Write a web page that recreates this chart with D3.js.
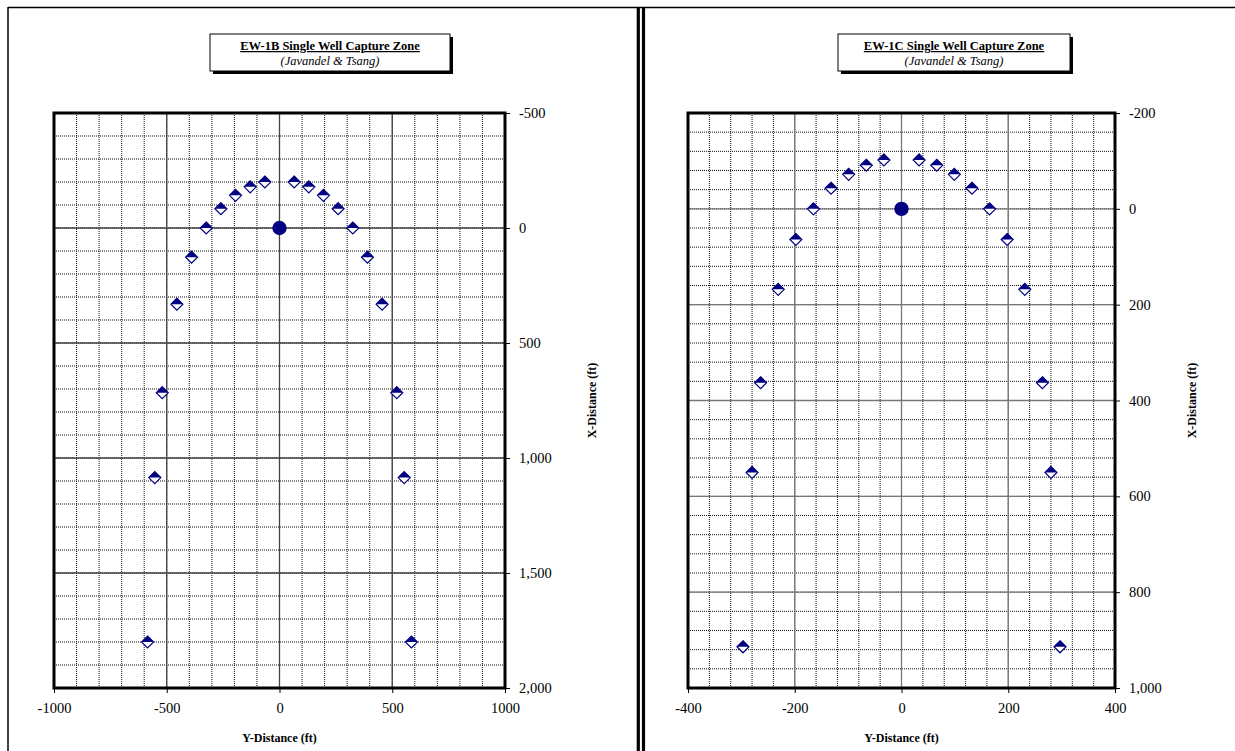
<!DOCTYPE html>
<html>
<head>
<meta charset="utf-8">
<script src="https://cdn.jsdelivr.net/npm/d3@7"></script>
<style>
body { margin: 0; background: #fff; }
svg { display: block; font-family: "Liberation Serif", "Times New Roman", serif; }
</style>
</head>
<body>
<div id="graph"></div>
<script>
// EW-1B capture zone points (Y-distance across, X-distance down)
let ew1bY = [-585, -553, -520, -455, -390, -325, -260, -195, -130, -65,
             65, 130, 195, 260, 325, 390, 455, 520, 553, 585];
let ew1bX = [1800, 1085, 716, 331, 127, 0, -84, -142, -179, -200,
             -200, -179, -142, -84, 0, 127, 331, 716, 1085, 1800];
let ew1bXTicks = [-1000, -500, 0, 500, 1000];
let ew1bYTicks = [-500, 0, 500, 1000, 1500, 2000];

// EW-1C capture zone points
let ew1cY = [-297, -280, -264, -231, -198, -165, -132, -99, -66, -33,
             33, 66, 99, 132, 165, 198, 231, 264, 280, 297];
let ew1cX = [914, 550, 363, 168, 64, 0, -43, -72, -91, -102,
             -102, -91, -72, -43, 0, 64, 168, 363, 550, 914];
let ew1cXTicks = [-400, -200, 0, 200, 400];
let ew1cYTicks = [-200, 0, 200, 400, 600, 800, 1000];

// extraction well location
let wellY = [0];
let wellX = [0];

let width = 1235, height = 751;
let navy = "#000080";

// plain hyphen minus like the spreadsheet output
let fmtPlain = d => d3.format("d")(d).replace("\u2212", "-");
let fmtComma = d => d3.format(",")(d).replace("\u2212", "-");

let svg = d3.select("div#graph").append("svg")
	.attr("width", width)
	.attr("height", height);

// page frame
svg.append("line").attr("x1", 8).attr("x2", 1235).attr("y1", 7.5).attr("y2", 7.5)
	.attr("stroke", "#000").attr("stroke-width", 1.5);
svg.append("line").attr("x1", 8).attr("x2", 8).attr("y1", 7).attr("y2", 751)
	.attr("stroke", "#000").attr("stroke-width", 1.5);
svg.append("line").attr("x1", 638.3).attr("x2", 638.3).attr("y1", 7).attr("y2", 751)
	.attr("stroke", "#000").attr("stroke-width", 3.2);
svg.append("line").attr("x1", 643.5).attr("x2", 643.5).attr("y1", 7).attr("y2", 751)
	.attr("stroke", "#000").attr("stroke-width", 3.2);

function drawPanel(cfg) {
	let g = svg.append("g");

	let xScale = d3.scaleLinear()
		.domain(d3.extent(cfg.xTicks))
		.range([cfg.left, cfg.right]);
	let yScale = d3.scaleLinear()
		.domain(d3.extent(cfg.yTicks))
		.range([cfg.top, cfg.bottom]);

	// grid - minor dotted, major solid
	let xMinor = d3.range(cfg.xTicks[0], cfg.xTicks[cfg.xTicks.length-1] + 1e-6, cfg.xMinor);
	let yMinor = d3.range(cfg.yTicks[0], cfg.yTicks[cfg.yTicks.length-1] + 1e-6, cfg.yMinor);

	g.selectAll("line.vminor").data(xMinor).enter().append("line")
		.attr("class", "vminor")
		.attr("x1", d => xScale(d)).attr("x2", d => xScale(d))
		.attr("y1", cfg.top).attr("y2", cfg.bottom)
		.attr("stroke", "#111").attr("stroke-width", 1)
		.attr("stroke-dasharray", "1,1");
	g.selectAll("line.hminor").data(yMinor).enter().append("line")
		.attr("class", "hminor")
		.attr("x1", cfg.left).attr("x2", cfg.right)
		.attr("y1", d => yScale(d)).attr("y2", d => yScale(d))
		.attr("stroke", "#111").attr("stroke-width", 1)
		.attr("stroke-dasharray", "1,1");
	g.selectAll("line.vmajor").data(cfg.xTicks).enter().append("line")
		.attr("class", "vmajor")
		.attr("x1", d => xScale(d)).attr("x2", d => xScale(d))
		.attr("y1", cfg.top).attr("y2", cfg.bottom)
		.attr("stroke", cfg.majorColor).attr("stroke-width", 1.3);
	g.selectAll("line.hmajor").data(cfg.yTicks).enter().append("line")
		.attr("class", "hmajor")
		.attr("x1", cfg.left).attr("x2", cfg.right)
		.attr("y1", d => yScale(d)).attr("y2", d => yScale(d))
		.attr("stroke", cfg.majorColor).attr("stroke-width", 1.3);

	// axes
	let xAxis = d3.axisBottom(xScale)
		.tickValues(cfg.xTicks)
		.tickSize(5)
		.tickFormat(fmtPlain);
	let yAxis = d3.axisRight(yScale)
		.tickValues(cfg.yTicks)
		.tickSize(5)
		.tickFormat(fmtComma);

	let gx = g.append("g")
		.attr("class", "x axis")
		.attr("transform", `translate(0, ${cfg.bottom})`)
		.call(xAxis);
	let gy = g.append("g")
		.attr("class", "y axis")
		.attr("transform", `translate(${cfg.right}, 0)`)
		.call(yAxis);
	[gx, gy].forEach(a => {
		a.select(".domain").remove();
		a.selectAll(".tick line").attr("stroke", "#000").attr("stroke-width", 1);
		a.selectAll("text")
			.attr("fill", "#000")
			.style("font-family", "Liberation Serif")
			.style("font-size", "14.5px");
	});
	gx.selectAll("text").attr("dy", "0.71em").attr("y", 15);
	gy.selectAll("text").attr("x", 14);

	// plot border
	g.append("rect")
		.attr("x", cfg.left).attr("y", cfg.top)
		.attr("width", cfg.right - cfg.left)
		.attr("height", cfg.bottom - cfg.top)
		.attr("fill", "none")
		.attr("stroke", "#000")
		.attr("stroke-width", 3);

	// axis titles
	g.append("text")
		.attr("x", (cfg.left + cfg.right) / 2)
		.attr("y", 742)
		.attr("text-anchor", "middle")
		.style("font-size", "12px")
		.style("font-weight", "bold")
		.text("Y-Distance (ft)");
	g.append("text")
		.attr("transform", `translate(${cfg.yTitleX}, ${(cfg.top + cfg.bottom) / 2}) rotate(-90)`)
		.attr("text-anchor", "middle")
		.style("font-size", "12px")
		.style("font-weight", "bold")
		.text("X-Distance (ft)");

	// title box with shadow
	let bx = cfg.boxCenter - cfg.boxWidth / 2;
	g.append("rect")
		.attr("x", bx + 3).attr("y", 37)
		.attr("width", cfg.boxWidth).attr("height", 37)
		.attr("fill", "#000");
	g.append("rect")
		.attr("x", bx).attr("y", 34)
		.attr("width", cfg.boxWidth).attr("height", 37)
		.attr("fill", "#fff")
		.attr("stroke", "#000")
		.attr("stroke-width", 1);
	g.append("text")
		.attr("x", cfg.boxCenter).attr("y", 50)
		.attr("text-anchor", "middle")
		.style("font-size", "12.5px")
		.style("font-weight", "bold")
		.style("text-decoration", "underline")
		.text(cfg.title);
	g.append("text")
		.attr("x", cfg.boxCenter).attr("y", 65)
		.attr("text-anchor", "middle")
		.style("font-size", "12.5px")
		.style("font-style", "italic")
		.text("(Javandel & Tsang)");

	// capture zone markers: diamond, top half filled
	let pts = cfg.yDist.map((d, i) => ({y: d, x: cfg.xDist[i]}));
	let s = 6;
	let marks = g.selectAll("g.pt").data(pts).enter().append("g")
		.attr("class", "pt")
		.attr("transform", d => `translate(${xScale(d.y)}, ${yScale(d.x)})`);
	marks.append("path")
		.attr("d", `M0,${-s}L${s},0L0,${s}L${-s},0Z`)
		.attr("fill", "#fff")
		.attr("stroke", navy)
		.attr("stroke-width", 1.2);
	marks.append("path")
		.attr("d", `M0,${-s}L${s},0L${-s},0Z`)
		.attr("fill", navy);

	// extraction well
	g.selectAll("circle.well").data(wellY).enter().append("circle")
		.attr("class", "well")
		.attr("cx", d => xScale(d))
		.attr("cy", (d, i) => yScale(wellX[i]))
		.attr("r", 7.2)
		.attr("fill", navy);
}

drawPanel({
	left: 54, right: 505, top: 113, bottom: 688,
	xTicks: ew1bXTicks, yTicks: ew1bYTicks, xMinor: 100, yMinor: 100,
	yDist: ew1bY, xDist: ew1bX,
	majorColor: "#444",
	yTitleX: 596,
	boxCenter: 330, boxWidth: 240,
	title: "EW-1B Single Well Capture Zone"
});

drawPanel({
	left: 688, right: 1115, top: 113, bottom: 688,
	xTicks: ew1cXTicks, yTicks: ew1cYTicks, xMinor: 40, yMinor: 40,
	yDist: ew1cY, xDist: ew1cX,
	majorColor: "#777",
	yTitleX: 1196,
	boxCenter: 954, boxWidth: 232,
	title: "EW-1C Single Well Capture Zone"
});
</script>
</body>
</html>
